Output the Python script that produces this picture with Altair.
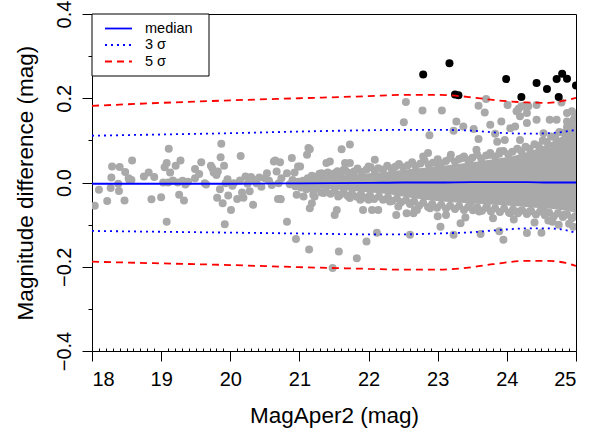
import altair as alt
import pandas as pd

FONT = "Liberation Sans"

# ---------------- data ----------------
# sparse grey points: (MagAper2, magnitude difference)
sparse_pts = [
    (18.04,-0.055),(18.10,-0.017),(18.22,-0.044),(18.27,-0.013),(18.28,0.012),(18.29,0.038),
    (18.38,-0.003),(18.39,-0.020),(18.40,0.037),(18.47,-0.043),(18.48,0.025),(18.53,0.010),
    (18.54,0.006),(18.58,0.052),(18.57,0.006),(18.75,0.014),(18.82,0.024),(18.86,-0.040),
    (18.90,0.013),(19.00,-0.035),(19.03,0.000),(19.05,0.036),(19.08,0.046),(19.11,0.080),
    (19.08,-0.093),(19.10,0.000),(19.13,0.024),(19.17,0.005),(19.21,0.040),(19.24,0.000),
    (19.26,-0.029),(19.28,0.052),(19.31,0.004),(19.33,-0.043),(19.35,-0.005),(19.39,0.002),
    (19.49,0.032),(19.49,0.010),(19.55,0.020),(19.58,0.048),(19.63,-0.002),(19.65,-0.005),
    (19.72,0.040),(19.74,0.034),(19.76,0.024),(19.80,0.018),(19.82,0.026),(19.81,-0.036),
    (19.85,-0.016),(19.86,0.060),(19.87,0.092),(19.89,-0.049),(19.91,0.040),(19.92,-0.099),
    (19.93,-0.002),(19.96,0.008),(19.97,-0.031),(20.01,-0.065),(20.03,-0.008),(20.05,-0.002),
    (20.10,-0.039),(20.14,0.005),(20.15,0.063),(20.17,-0.024),(20.19,-0.036),(20.22,0.014),
    (20.25,-0.003),(20.28,-0.021),(20.30,0.013),(20.33,-0.053),(20.35,0.006),(20.38,-0.002),
    (20.42,0.012),(20.45,-0.010),(20.50,0.010),(20.53,0.022),(20.56,0.004),(20.60,-0.006),
    (20.63,0.050),(20.65,0.052),(20.67,0.026),(20.69,-0.039),(20.72,-0.039),(20.70,-0.002),
    (20.72,0.048),(20.73,-0.040),(20.74,0.010),(20.82,-0.093),(20.82,0.022),(20.86,-0.004),
    (20.89,0.058),(20.90,0.006),(20.93,0.024),(20.98,0.038),(20.94,-0.009),(20.96,-0.029),
    (20.98,0.002),(20.95,-0.134),(21.01,0.038),(21.02,-0.012),(21.05,0.004),(21.06,-0.033),
    (21.08,-0.005),(21.10,-0.016),(21.11,0.066),(21.12,0.010),(21.13,0.082),(21.14,0.006),
    (21.14,-0.159),(21.15,-0.061),(21.15,0.079),(21.17,-0.010),(21.18,-0.049),(21.20,-0.029),
    (21.22,-0.033),(21.23,-0.002),(21.27,0.014),(21.32,0.022),(21.35,-0.025),(21.39,0.046),
    (21.44,0.050),(21.47,0.014),(21.48,-0.203),(21.51,0.022),(21.51,-0.077),(21.54,-0.065),
    (21.56,-0.033),(21.57,-0.164),(21.59,0.022),(21.59,-0.029),(21.61,0.079),(21.64,0.030),
    (21.66,0.046),(21.73,0.090),(21.73,0.046),(21.73,-0.037),(21.78,0.018),(21.83,-0.180),
    (21.88,-0.041),(21.92,-0.065),(21.97,-0.140),(22.00,0.038),(22.00,-0.041),(22.05,-0.065),
    (22.09,0.054),(22.12,-0.119),(22.14,-0.065),(22.31,-0.045),(22.36,0.022),(22.40,-0.077),
    (22.43,-0.057),(22.51,0.143),(22.54,0.191),(22.55,-0.073),(22.60,-0.049),(22.60,-0.124),
    (22.67,-0.065),
    (22.78,0.171),(22.79,0.062),(22.86,0.070),(22.88,0.112),(23.01,0.042),(23.06,0.171),
    (23.19,0.066),(23.23,0.123),(23.27,0.145),(23.35,0.058),(23.37,0.133),(23.46,0.050),
    (23.52,0.127),(23.56,0.078),(23.59,0.182),(23.59,0.103),(23.68,0.166),(23.70,0.198),
    (23.76,0.137),(23.76,0.066),(23.83,0.116),(23.86,0.097),(23.90,0.074),(23.92,0.145),
    (23.97,0.101),(24.01,0.184),(24.05,0.129),(24.12,0.133),(24.14,0.169),(24.17,0.175),
    (24.19,0.157),(24.19,0.101),(24.21,0.181),(24.24,0.181),(24.29,0.141),(24.29,0.165),
    (24.31,0.181),(24.43,0.184),(24.43,0.149),(24.53,0.117),(24.62,0.149),(24.72,0.149),
    (24.79,0.190),(24.87,0.165),(24.87,0.145),(24.94,0.169),(24.99,0.157),
    (22.65,-0.073),(22.70,-0.065),(22.89,-0.061),(23.00,-0.080),(23.04,-0.105),(23.12,-0.077),
    (23.23,-0.124),(23.33,-0.097),(23.40,-0.083),(23.47,-0.049),(23.60,-0.069),(23.62,-0.122),
    (23.71,-0.057),(23.80,-0.085),(23.89,-0.116),(23.95,-0.136),(24.05,-0.073),(24.10,-0.088),
    (24.18,-0.069),(24.29,-0.120),(24.33,-0.069),(24.40,-0.095),(24.50,-0.119),(24.55,-0.069),
    (24.60,-0.090),(24.66,-0.093),(24.75,-0.100),(24.82,-0.077),(24.90,-0.098),(24.96,-0.105),
]

# grey points along the upper and lower rim of the dense cloud
rim_hi_pts = [
    (21.18,0.016),(21.24,0.013),(21.29,0.021),(21.36,0.017),(21.41,0.024),(21.47,0.019),
    (21.55,0.027),(21.60,0.021),(21.66,0.030),(21.71,0.023),(21.79,0.026),(21.84,0.033),
    (21.90,0.025),(21.97,0.031),(22.03,0.036),(22.09,0.028),(22.14,0.034),(22.21,0.031),
    (22.27,0.040),(22.33,0.033),(22.39,0.038),(22.44,0.044),(22.50,0.036),(22.57,0.041),
    (22.63,0.048),(22.68,0.039),(22.75,0.045),(22.81,0.052),(22.87,0.042),(22.93,0.047),
    (23.00,0.055),(23.05,0.045),(23.12,0.051),(23.18,0.058),(23.25,0.049),(23.31,0.056),
    (23.38,0.062),(23.44,0.053),(23.50,0.059),(23.57,0.066),(23.63,0.057),(23.70,0.064),
    (23.76,0.070),(23.83,0.062),(23.89,0.068),(23.95,0.075),(24.02,0.067),(24.08,0.073),
    (24.15,0.080),(24.21,0.074),(24.27,0.085),(24.33,0.080),(24.40,0.091),(24.46,0.087),
    (24.52,0.100),(24.58,0.096),(24.64,0.109),(24.70,0.107),(24.76,0.120),(24.82,0.118),
    (24.87,0.132),(24.92,0.136),(24.97,0.150),(24.99,0.162),
]
rim_lo_pts = [
    (21.20,-0.018),(21.26,-0.015),(21.32,-0.024),(21.38,-0.019),(21.45,-0.027),(21.51,-0.021),
    (21.58,-0.029),(21.64,-0.024),(21.70,-0.032),(21.76,-0.026),(21.83,-0.034),(21.89,-0.028),
    (21.96,-0.036),(22.02,-0.030),(22.08,-0.039),(22.15,-0.033),(22.21,-0.041),(22.28,-0.035),
    (22.34,-0.044),(22.41,-0.038),(22.47,-0.047),(22.54,-0.042),(22.60,-0.051),(22.66,-0.045),
    (22.73,-0.055),(22.79,-0.048),(22.86,-0.058),(22.92,-0.051),(22.99,-0.060),(23.05,-0.053),
    (23.12,-0.062),(23.18,-0.055),(23.25,-0.063),(23.31,-0.056),(23.38,-0.065),(23.44,-0.058),
    (23.51,-0.066),(23.57,-0.059),(23.64,-0.067),(23.70,-0.060),(23.77,-0.069),(23.83,-0.061),
    (23.90,-0.070),(23.96,-0.062),(24.03,-0.071),(24.09,-0.064),(24.16,-0.073),(24.22,-0.066),
    (24.29,-0.075),(24.35,-0.067),(24.42,-0.076),(24.48,-0.069),(24.55,-0.078),(24.61,-0.071),
    (24.68,-0.080),(24.74,-0.073),(24.81,-0.082),(24.87,-0.076),(24.94,-0.085),(24.99,-0.080),
]

# solid core of the dense cloud of faint sources
core_mag = [21.1, 21.4, 21.7, 22.0, 22.3, 22.6, 22.9, 23.2, 23.5, 23.8, 24.1, 24.4, 24.6, 24.8, 24.95, 25.0]
core_hi  = [0.008, 0.014, 0.018, 0.022, 0.026, 0.032, 0.036, 0.042, 0.048, 0.055, 0.063, 0.078, 0.092, 0.110, 0.135, 0.145]
core_lo  = [-0.010, -0.015, -0.019, -0.023, -0.028, -0.036, -0.043, -0.047, -0.050, -0.053, -0.056, -0.060, -0.062, -0.066, -0.070, -0.072]

# black outliers beyond 5 sigma
out_mag  = [22.79, 23.17, 23.25, 23.30, 23.99, 24.21, 24.43, 24.58, 24.72, 24.80, 24.87, 24.75, 25.00]
out_diff = [0.2565, 0.283, 0.209, 0.207, 0.2455, 0.203, 0.236, 0.222, 0.2455, 0.258, 0.246, 0.203, 0.230]

# running statistics curves
curve_mag = [18, 19, 20, 21, 22, 22.5, 23, 23.5, 23.8, 24.3, 24.6, 24.85, 25]
median    = [-0.003, -0.003, -0.003, -0.002, -0.001, 0.000, 0.000, 0.001, 0.001, 0.001, 0.000, 0.000, 0.000]
up3 = [0.111, 0.114, 0.117, 0.121, 0.124, 0.125, 0.125, 0.123, 0.119, 0.116, 0.117, 0.121, 0.125]
lo3 = [-0.115, -0.117, -0.119, -0.121, -0.123, -0.123, -0.121, -0.118, -0.114, -0.109, -0.109, -0.113, -0.120]
up5 = [0.182, 0.189, 0.195, 0.200, 0.205, 0.208, 0.208, 0.202, 0.196, 0.190, 0.189, 0.195, 0.201]
lo5 = [-0.188, -0.192, -0.196, -0.201, -0.205, -0.207, -0.207, -0.201, -0.194, -0.186, -0.186, -0.191, -0.198]

legend_labels = ["median", "3  σ", "5  σ"]

x_major = [18, 19, 20, 21, 22, 23, 24, 25]
x_minor = [round(18 + 0.1 * i, 1) for i in range(71) if i % 10]
y_major = [-0.4, -0.2, 0.0, 0.2, 0.4]
y_minor = [-0.3, -0.1, 0.1, 0.3]

# ---------------- tables ----------------
grey = pd.DataFrame(sparse_pts + rim_hi_pts + rim_lo_pts, columns=["mag", "diff"])
core = pd.DataFrame({"mag": core_mag, "hi": core_hi, "lo": core_lo})
outl = pd.DataFrame({"mag": out_mag, "diff": out_diff})
curves = pd.DataFrame({"mag": curve_mag, "median": median, "up3": up3, "lo3": lo3, "up5": up5, "lo5": lo5})

W, H = 484, 337
GREY = "#A9A9A9"
PSIZE = 64

xs = alt.Scale(domain=[18, 25], nice=False, zero=False)
ys = alt.Scale(domain=[-0.4, 0.4], nice=False, zero=False)

x_axis = alt.Axis(orient="bottom", values=x_major, format="d", tickSize=10, tickColor="black",
                  labelFontSize=20, labelPadding=8, labelColor="black", domain=False, grid=False,
                  title="MagAper2 (mag)", titleFontSize=22.5, titleFontWeight="normal",
                  titleColor="black", titleX=W / 2, titleY=71, titleBaseline="alphabetic",
                  titleAlign="center", labelFont=FONT, titleFont=FONT)
y_axis = alt.Axis(orient="left", values=y_major, format=".1f", tickSize=10, tickColor="black",
                  labelFontSize=20, labelPadding=12, labelAngle=270, labelAlign="center",
                  labelBaseline="alphabetic", labelColor="black", domain=False, grid=False,
                  title="Magnitude difference (mag)", titleFontSize=22.5, titleFontWeight="normal",
                  titleColor="black", titleAngle=270, titleX=-60, titleY=H / 2,
                  titleBaseline="alphabetic", titleAlign="center", labelFont=FONT, titleFont=FONT)
x_minor_axis = alt.Axis(orient="bottom", values=x_minor, tickSize=3, offset=-3, tickColor="black",
                        labels=False, domain=False, grid=False, title=None)
y_minor_axis = alt.Axis(orient="left", values=y_minor, tickSize=4, tickColor="black", labels=False,
                        domain=False, grid=False, title=None)

core_layer = alt.Chart(core).mark_area(color=GREY, opacity=1, clip=True).encode(
    x=alt.X("mag:Q", scale=xs, axis=x_axis),
    y=alt.Y("hi:Q", scale=ys, axis=y_axis),
    y2="lo:Q",
)
grey_layer = alt.Chart(grey).mark_circle(color=GREY, opacity=1, size=PSIZE, clip=True).encode(
    x=alt.X("mag:Q", scale=xs, axis=x_minor_axis),
    y=alt.Y("diff:Q", scale=ys, axis=y_minor_axis),
)
out_layer = alt.Chart(outl).mark_circle(color="black", opacity=1, size=PSIZE, clip=True).encode(
    x=alt.X("mag:Q", scale=xs, axis=None),
    y=alt.Y("diff:Q", scale=ys, axis=None),
)


def curve(col, color, dash):
    props = dict(color=color, strokeWidth=1.8, interpolate="monotone", clip=True)
    if dash:
        props["strokeDash"] = dash
        props["strokeCap"] = "butt"
    return alt.Chart(curves).mark_line(**props).encode(
        x=alt.X("mag:Q", scale=xs, axis=None),
        y=alt.Y(f"{col}:Q", scale=ys, axis=None),
    )


lines = [
    curve("median", "#0000FF", None),
    curve("up3", "#0000FF", [2, 4]),
    curve("lo3", "#0000FF", [2, 4]),
    curve("up5", "#FF0000", [7, 5]),
    curve("lo5", "#FF0000", [7, 5]),
]

# ---------------- legend (top-left, boxed) ----------------
one = pd.DataFrame({"k": [0]})
leg_box = alt.Chart(one).mark_rect(fill="white", stroke="black", strokeWidth=1).encode(
    x=alt.value(0), x2=alt.value(117), y=alt.value(0), y2=alt.value(62)
)
leg_styles = [("#0000FF", None, 14.5), ("#0000FF", [2, 4], 31), ("#FF0000", [7, 5], 47.5)]
leg_layers = [leg_box]
for lab, (col, dash, yy) in zip(legend_labels, leg_styles):
    rp = dict(color=col, strokeWidth=1.8)
    if dash:
        rp["strokeDash"] = dash
        rp["strokeCap"] = "butt"
    leg_layers.append(alt.Chart(one).mark_rule(**rp).encode(
        x=alt.value(13), x2=alt.value(40), y=alt.value(yy)))
    leg_layers.append(alt.Chart(one).mark_text(
        align="left", baseline="middle", fontSize=14.5, font=FONT, color="black").encode(
        x=alt.value(53), y=alt.value(yy), text=alt.value(lab)))

chart = alt.layer(core_layer, grey_layer, out_layer, *lines, *leg_layers).resolve_axis(
    x="independent", y="independent"
).properties(
    width=W, height=H,
    autosize=alt.AutoSizeParams(type="none"),
    padding={"left": 92, "top": 14, "right": 26, "bottom": 81},
    background="white",
).configure_view(stroke="black", strokeWidth=1).configure_axis(
    labelFont=FONT, titleFont=FONT
)

chart.save("out.html", embed_options={"renderer": "svg", "actions": False})
